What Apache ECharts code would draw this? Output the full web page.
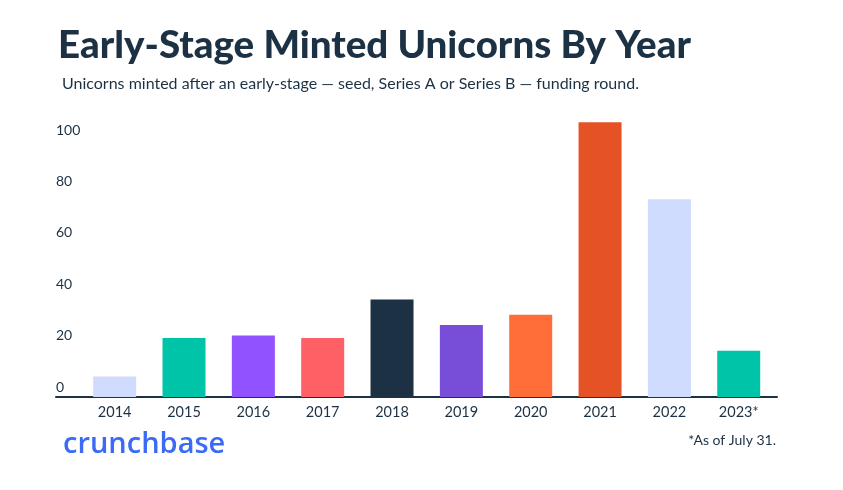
<!DOCTYPE html>
<html>
<head>
<meta charset="utf-8">
<script src="https://cdn.jsdelivr.net/npm/echarts@6/dist/echarts.min.js"></script>
<style>html,body{margin:0;padding:0;background:#fff;}#c{width:843px;height:490px;}</style>
</head>
<body>
<div id="c"></div>
<script>
const categories = ['2014','2015','2016','2017','2018','2019','2020','2021','2022','2023*'];
const values = [8, 23, 24, 23, 38, 28, 32, 107, 77, 18];
const colors = ['#cfdcfd','#00c4a7','#9152ff','#ff6066','#1c3144','#784ed8','#ff6d38','#e55225','#cfdcfd','#00c4a7'];
const yTickValues = [0, 20, 40, 60, 80, 100];

const ink = '#1c3144';
const font = 'Lato';
const chart = echarts.init(document.getElementById('c'), null, {renderer: 'canvas'});
const option = {
  animation: false,
  backgroundColor: '#ffffff',
  title: [
    {text: 'Early-Stage Minted Unicorns By Year', left: 53, top: 21,
     textStyle: {fontFamily: font, fontWeight: 900, fontSize: 38.5, color: ink}},
    {text: 'Unicorns minted after an early-stage — seed, Series A or Series B — funding round.', left: 57, top: 71,
     textStyle: {fontFamily: font, fontWeight: 'normal', fontSize: 16, color: ink}},
    {text: 'crunchbase', left: 58, top: 425,
     textStyle: {fontFamily: 'Open Sans', fontWeight: 600, fontSize: 29, color: '#3b6af5'}},
    {text: '*As of July 31.', right: 62, top: 428,
     textStyle: {fontFamily: font, fontWeight: 'normal', fontSize: 14, color: ink}}
  ],
  grid: [
    {left: 80, right: 69.6, top: 114.6, bottom: 93},
    {left: 56, right: 66, top: 114.6, bottom: 93}
  ],
  xAxis: [
    {type: 'category', gridIndex: 0, data: categories,
     axisLine: {show: false}, axisTick: {show: false},
     axisLabel: {color: ink, fontFamily: font, fontSize: 14.5, margin: 8}},
    {type: 'value', gridIndex: 1, min: 0, max: 1,
     axisLine: {show: true, onZero: false, lineStyle: {color: ink, width: 2}},
     axisTick: {show: false}, axisLabel: {show: false}, splitLine: {show: false}}
  ],
  yAxis: [
    {type: 'value', gridIndex: 0, min: 0, max: 110, show: false, splitLine: {show: false}},
    {type: 'value', gridIndex: 1, min: 0, max: 110, interval: 20,
     axisLine: {show: false}, axisTick: {show: false}, splitLine: {show: false},
     axisLabel: {inside: true, align: 'left', verticalAlign: 'bottom', margin: 0, padding: [0,0,3,0],
       showMaxLabel: false, color: ink, fontFamily: font, fontSize: 14,
       formatter: v => yTickValues.indexOf(v) >= 0 ? String(v) : ''}}
  ],
  series: [{
    type: 'bar', xAxisIndex: 0, yAxisIndex: 0, barWidth: 43,
    data: values.map((v, i) => ({value: v, itemStyle: {color: colors[i]}}))
  }]
};
chart.setOption(option);
</script>
</body>
</html>
